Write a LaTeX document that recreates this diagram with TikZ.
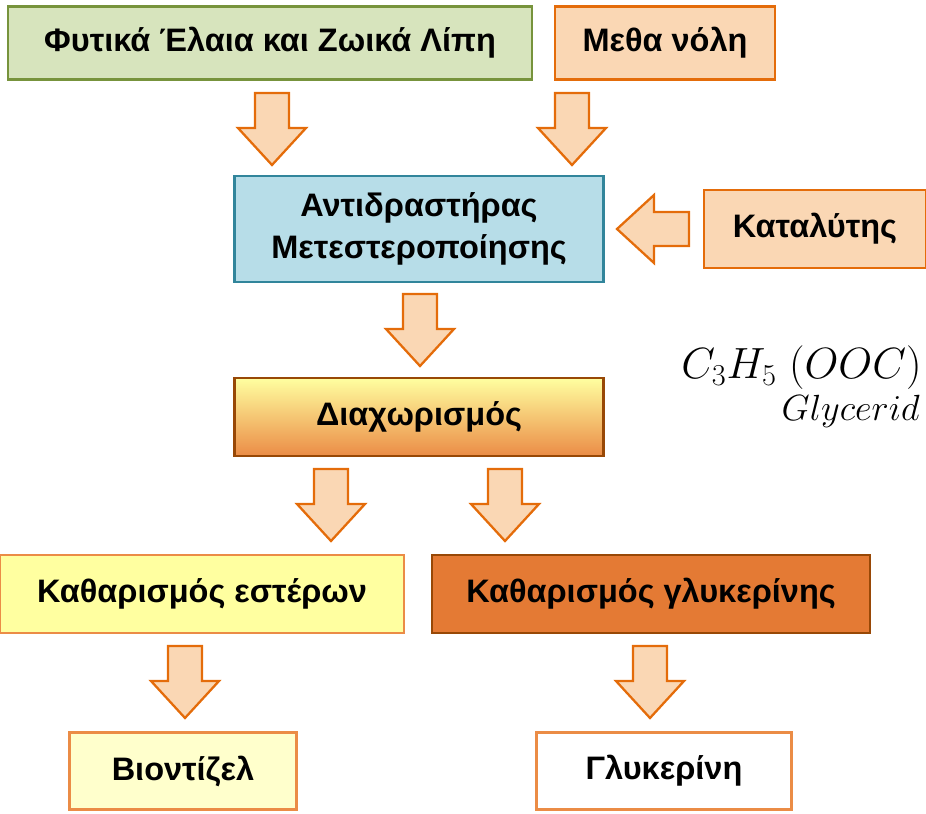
\documentclass[tikz,border=0pt]{standalone}
\usepackage{fontspec}
\setmainfont{Liberation Sans}
\usepackage{tikz}
\usetikzlibrary{positioning, calc}
\definecolor{OilGreen}{RGB}{215,228,189}
\definecolor{OilBorder}{RGB}{119,147,60}
\definecolor{Peach}{RGB}{250,215,180}
\definecolor{OrangeMid}{RGB}{228,108,10}
\definecolor{OrangeLine}{RGB}{235,140,70}
\definecolor{ReactBlue}{RGB}{183,221,232}
\definecolor{ReactBorder}{RGB}{49,133,155}
\definecolor{BrownLine}{RGB}{152,72,6}
\definecolor{YellowLight}{RGB}{255,255,160}
\definecolor{YellowPale}{RGB}{255,255,204}
\definecolor{OrangeDark}{RGB}{228,122,52}

\begin{document}
\begin{tikzpicture}[
        x=0.02cm, y=-0.02cm,
        box/.style={rectangle,draw,line width=1.6pt,align=center,
                    font=\bfseries\fontsize{18.5}{24}\selectfont,inner sep=2pt},
        arrline/.style={draw=OrangeMid,fill=Peach,line width=1.3pt,line join=miter},
        darr/.pic={\path[arrline] (-17,-36) -- (17,-36) -- (17,-1) -- (34,-1)
                     -- (0,36) -- (-34,-1) -- (-17,-1) -- cycle;},
        larr/.pic={\path[arrline] (36,-17) -- (36,17) -- (1,17) -- (1,34)
                     -- (-36,0) -- (1,-34) -- (1,-17) -- cycle;}
      ]
        \useasboundingbox (0,0) rectangle (926,814);
        % inputs
        \node[box,draw=OilBorder,fill=OilGreen,minimum width=10.48cm,minimum height=1.46cm]
          (oil) at (270,43) {Φυτικά Έλαια και Ζωικά Λίπη};
        \node[box,draw=OrangeMid,fill=Peach,minimum width=4.4cm,minimum height=1.46cm]
          (meth) at (665,43) {Μεθα νόλη};
        \node[box,draw=ReactBorder,fill=ReactBlue,minimum width=7.38cm,minimum height=2.12cm]
          (react) at (419,229) {Αντιδραστήρας\\Μετεστεροποίησης};
        \node[box,draw=OrangeMid,fill=Peach,minimum width=4.44cm,minimum height=1.56cm]
          (cat) at (815,229) {Καταλύτης};
        \node[box,draw=BrownLine,top color=YellowLight,bottom color=OrangeLine,
              minimum width=7.38cm,minimum height=1.56cm]
          (sep) at (419,417) {Διαχωρισμός};
        % formula
        \node[anchor=east,inner sep=0pt,font=\fontsize{25}{28}\selectfont]
          (form) at (922,368) {$C_3H_5\;(OOC)$};
        \node[anchor=north east,inner sep=0pt,font=\fontsize{20}{22}\selectfont]
          (glyc) at (920,395) {$Glycerid$};
        % purification
        \node[box,draw=OrangeLine,fill=YellowLight,minimum width=8.08cm,minimum height=1.56cm]
          (est) at (202,594) {Καθαρισμός εστέρων};
        \node[box,draw=BrownLine,fill=OrangeDark,minimum width=8.76cm,minimum height=1.56cm]
          (gly) at (651,594) {Καθαρισμός γλυκερίνης};
        % products
        \node[box,draw=OrangeLine,fill=YellowPale,minimum width=4.54cm,minimum height=1.54cm]
          (bio) at (183,771) {Βιοντίζελ};
        \node[box,draw=OrangeLine,fill=white,minimum width=5.1cm,minimum height=1.54cm]
          (glc) at (664,771) {Γλυκερίνη};
        % block arrows
        \pic at (272,129) {darr};
        \pic at (572,129) {darr};
        \pic at (653,229) {larr};
        \pic at (420,330) {darr};
        \pic at (331,505) {darr};
        \pic at (505,505) {darr};
        \pic at (185,682) {darr};
        \pic at (650,682) {darr};
      \end{tikzpicture}
\end{document}
